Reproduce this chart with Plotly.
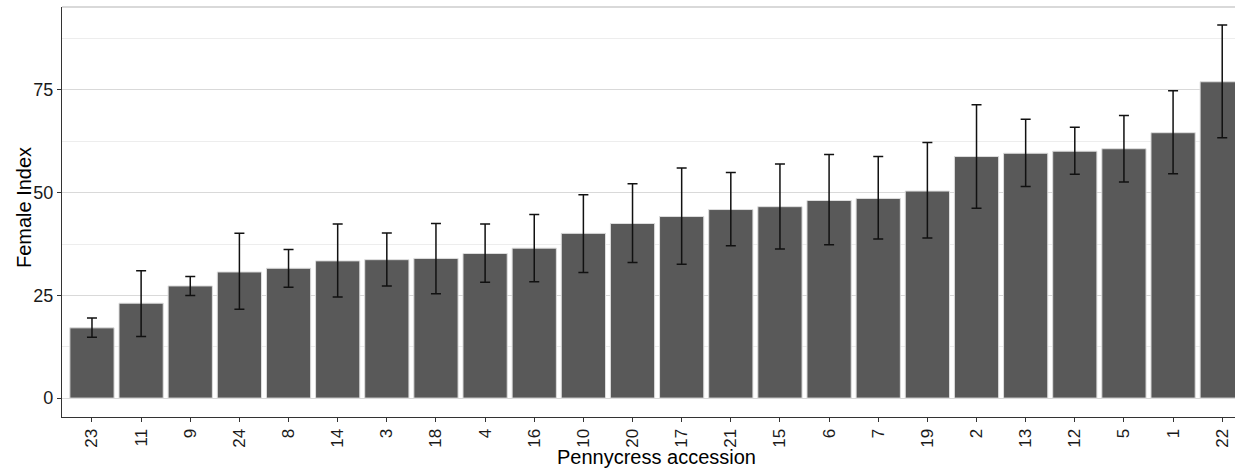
import plotly.graph_objects as go

accessions = ["23", "11", "9", "24", "8", "14", "3", "18", "4", "16", "10", "20",
              "17", "21", "15", "6", "7", "19", "2", "13", "12", "5", "1", "22"]
means = [17.1, 23.1, 27.3, 30.7, 31.6, 33.4, 33.7, 34.0, 35.2, 36.5, 40.1, 42.5,
         44.2, 45.9, 46.6, 48.1, 48.6, 50.4, 58.8, 59.6, 60.1, 60.7, 64.6, 77.0]
upper = [19.5, 31.0, 29.6, 40.1, 36.2, 42.4, 40.2, 42.5, 42.4, 44.7, 49.5, 52.2,
         56.0, 54.9, 57.0, 59.3, 58.8, 62.2, 71.4, 67.9, 65.9, 68.8, 74.8, 90.8]
lower = [14.8, 15.0, 25.0, 21.6, 27.0, 24.6, 27.3, 25.4, 28.2, 28.3, 30.6, 33.0,
         32.6, 37.1, 36.3, 37.3, 38.7, 39.0, 46.2, 51.5, 54.5, 52.6, 54.6, 63.4]

err_plus = [u - m for u, m in zip(upper, means)]
err_minus = [m - l for m, l in zip(means, lower)]

fig = go.Figure(go.Bar(
    x=accessions, y=means,
    marker=dict(color="#595959", line=dict(color="#dddddd", width=1)),
    width=0.9,
    error_y=dict(type="data", symmetric=False, array=err_plus, arrayminus=err_minus,
                 color="#111111", thickness=1.5, width=5),
))

font = "Liberation Sans, Arial, sans-serif"
fig.update_layout(
    width=1235, height=469,
    margin=dict(l=62, r=0, t=7, b=52),
    paper_bgcolor="white", plot_bgcolor="white",
    showlegend=False,
    font=dict(family=font, color="#1a1a1a"),
    xaxis=dict(
        type="category",
        categoryorder="array", categoryarray=accessions,
        range=[-0.61, 23.26],
        showgrid=False, zeroline=False,
        showline=True, linecolor="#333333", linewidth=1.2,
        ticks="outside", ticklen=4, tickcolor="#333333",
        tickangle=-90, tickfont=dict(size=17, color="#1a1a1a"),
    ),
    yaxis=dict(
        range=[-4.6, 95.2],
        tickvals=[0, 25, 50, 75],
        showgrid=True, gridcolor="#d9d9d9", gridwidth=1,
        minor=dict(tickvals=[12.5, 37.5, 62.5, 87.5], showgrid=True,
                   gridcolor="#ededed", gridwidth=1),
        zeroline=False,
        showline=True, linecolor="#333333", linewidth=1.2,
        ticks="outside", ticklen=4, tickcolor="#333333",
        tickfont=dict(size=18, color="#1a1a1a"),
    ),
    shapes=[dict(type="line", xref="paper", yref="paper", x0=0, x1=1, y0=1, y1=1,
                 line=dict(color="#b3b3b3", width=1))],
    annotations=[
        dict(text="Pennycress accession", xref="paper", yref="paper",
             x=0.507, y=-0.0976, xanchor="center", yanchor="middle",
             showarrow=False, font=dict(size=20, color="#000000")),
        dict(text="Female Index", xref="paper", yref="paper",
             x=-0.0324, y=0.512, xanchor="center", yanchor="middle", textangle=-90,
             showarrow=False, font=dict(size=20, color="#000000")),
    ],
)

fig.write_html("out.html", config={"displayModeBar": False},
               post_script="document.body.style.margin='0';document.body.style.overflow='hidden';")
